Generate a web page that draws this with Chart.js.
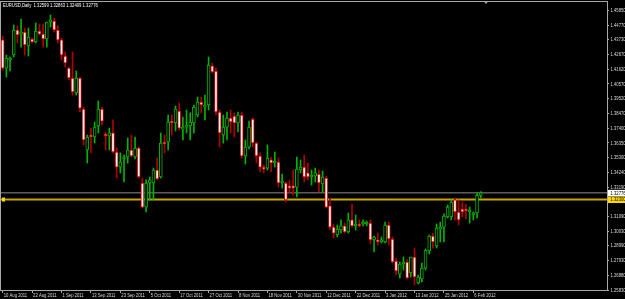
<!DOCTYPE html>
<html>
<head>
<meta charset="utf-8">
<script src="https://cdn.jsdelivr.net/npm/chart.js@4.4.1/dist/chart.umd.min.js"></script>
<style>
  html, body { margin: 0; padding: 0; background: #000; }
</style>
</head>
<body>
<canvas id="chart" width="625" height="299"></canvas>
<script>
// EURUSD daily bars, 10 Aug 2011 .. 8 Feb 2012
const opens = [
  1.4371, 1.4170, 1.4228, 1.4263, 1.4442, 1.4413, 1.4428, 1.4328, 1.4378, 1.4356,
  1.4435, 1.4413, 1.4378, 1.4499, 1.4506, 1.4442, 1.4371, 1.4256, 1.4170, 1.4099,
  1.3992, 1.4099, 1.3877, 1.3584, 1.3691, 1.3677, 1.3756, 1.3877, 1.3698, 1.3684,
  1.3706, 1.3570, 1.3462, 1.3520, 1.3534, 1.3584, 1.3534, 1.3598, 1.3348, 1.3176,
  1.3348, 1.3348, 1.3441, 1.3391, 1.3641, 1.3641, 1.3791, 1.3777, 1.3863, 1.3734,
  1.3748, 1.3756, 1.3777, 1.3834, 1.3927, 1.3891, 1.3906, 1.4185, 1.4149, 1.3856,
  1.3691, 1.3748, 1.3813, 1.3827, 1.3777, 1.3834, 1.3541, 1.3605, 1.3806, 1.3634,
  1.3541, 1.3462, 1.3455, 1.3513, 1.3491, 1.3498, 1.3348, 1.3348, 1.3327, 1.3327,
  1.3319, 1.3441, 1.3462, 1.3420, 1.3391, 1.3398, 1.3412, 1.3341, 1.3384, 1.3184,
  1.3033, 1.2976, 1.3012, 1.3041, 1.2998, 1.3084, 1.3041, 1.3055, 1.3055, 1.3055,
  1.3062, 1.2941, 1.2941, 1.2926, 1.2926, 1.3048, 1.2948, 1.2790, 1.2697, 1.2769,
  1.2783, 1.2705, 1.2819, 1.2633, 1.2662, 1.2740, 1.2862, 1.2969, 1.2898, 1.3019,
  1.3033, 1.3105, 1.3105, 1.3227, 1.3141, 1.3162, 1.3162, 1.3141, 1.3119, 1.3134,
  1.32599
];
const highs = [
  1.4399, 1.4263, 1.4249, 1.4478, 1.4471, 1.4521, 1.4456, 1.4456, 1.4385, 1.4492,
  1.4485, 1.4485, 1.4499, 1.4549, 1.4528, 1.4471, 1.4385, 1.4285, 1.4177, 1.4285,
  1.4149, 1.4106, 1.3891, 1.3691, 1.3741, 1.3784, 1.3934, 1.3891, 1.3713, 1.3741,
  1.3799, 1.3598, 1.3563, 1.3548, 1.3670, 1.3691, 1.3677, 1.3605, 1.3384, 1.3370,
  1.3391, 1.3455, 1.3527, 1.3706, 1.3691, 1.3834, 1.3834, 1.3899, 1.3920, 1.3820,
  1.3870, 1.3849, 1.3906, 1.3963, 1.3963, 1.3977, 1.4249, 1.4206, 1.4170, 1.3870,
  1.3834, 1.3856, 1.3870, 1.3849, 1.3856, 1.3856, 1.3656, 1.3791, 1.3813, 1.3641,
  1.3563, 1.3477, 1.3620, 1.3534, 1.3570, 1.3527, 1.3412, 1.3355, 1.3370, 1.3441,
  1.3534, 1.3513, 1.3548, 1.3491, 1.3441, 1.3455, 1.3441, 1.3434, 1.3398, 1.3241,
  1.3055, 1.3048, 1.3084, 1.3062, 1.3134, 1.3198, 1.3119, 1.3084, 1.3084, 1.3076,
  1.3084, 1.2969, 1.2990, 1.2962, 1.3069, 1.3069, 1.2962, 1.2812, 1.2783, 1.2819,
  1.2798, 1.2819, 1.2883, 1.2690, 1.2776, 1.2876, 1.2976, 1.2990, 1.3055, 1.3069,
  1.3127, 1.3191, 1.3227, 1.3241, 1.3227, 1.3212, 1.3198, 1.3176, 1.3141, 1.3277,
  1.32863
];
const lows = [
  1.4156, 1.4106, 1.4149, 1.4249, 1.4349, 1.4320, 1.4263, 1.4256, 1.4349, 1.4349,
  1.4406, 1.4320, 1.4320, 1.4463, 1.4428, 1.4349, 1.4228, 1.4177, 1.4085, 1.3977,
  1.3977, 1.3856, 1.3620, 1.3491, 1.3563, 1.3634, 1.3706, 1.3763, 1.3584, 1.3584,
  1.3563, 1.3384, 1.3420, 1.3355, 1.3491, 1.3534, 1.3520, 1.3384, 1.3169, 1.3141,
  1.3227, 1.3227, 1.3370, 1.3384, 1.3563, 1.3584, 1.3691, 1.3720, 1.3727, 1.3656,
  1.3706, 1.3656, 1.3706, 1.3820, 1.3849, 1.3799, 1.3870, 1.4135, 1.3834, 1.3605,
  1.3634, 1.3656, 1.3706, 1.3677, 1.3713, 1.3527, 1.3484, 1.3591, 1.3605, 1.3491,
  1.3427, 1.3420, 1.3441, 1.3427, 1.3462, 1.3319, 1.3312, 1.3212, 1.3277, 1.3262,
  1.3248, 1.3420, 1.3355, 1.3370, 1.3334, 1.3355, 1.3284, 1.3284, 1.3169, 1.3012,
  1.2955, 1.2962, 1.2990, 1.2990, 1.2990, 1.3033, 1.3012, 1.3033, 1.3041, 1.3041,
  1.2912, 1.2855, 1.2905, 1.2919, 1.2919, 1.2905, 1.2776, 1.2690, 1.2669, 1.2726,
  1.2662, 1.2676, 1.2619, 1.2626, 1.2640, 1.2726, 1.2840, 1.2883, 1.2883, 1.2926,
  1.2926, 1.3098, 1.3084, 1.3084, 1.3048, 1.3105, 1.3091, 1.3062, 1.3084, 1.3098,
  1.32409
];
const closes = [
  1.4170, 1.4242, 1.4242, 1.4442, 1.4406, 1.4428, 1.4335, 1.4392, 1.4356, 1.4435,
  1.4413, 1.4378, 1.4499, 1.4514, 1.4442, 1.4371, 1.4263, 1.4206, 1.4099, 1.3999,
  1.4099, 1.3884, 1.3656, 1.3677, 1.3677, 1.3748, 1.3877, 1.3791, 1.3684, 1.3706,
  1.3570, 1.3462, 1.3498, 1.3534, 1.3584, 1.3541, 1.3598, 1.3391, 1.3176, 1.3348,
  1.3370, 1.3441, 1.3377, 1.3634, 1.3627, 1.3784, 1.3777, 1.3877, 1.3741, 1.3748,
  1.3763, 1.3784, 1.3891, 1.3927, 1.3906, 1.3906, 1.4192, 1.4142, 1.3856, 1.3706,
  1.3748, 1.3813, 1.3784, 1.3777, 1.3834, 1.3541, 1.3605, 1.3748, 1.3634, 1.3541,
  1.3462, 1.3448, 1.3527, 1.3491, 1.3505, 1.3348, 1.3362, 1.3227, 1.3312, 1.3312,
  1.3448, 1.3462, 1.3391, 1.3391, 1.3405, 1.3420, 1.3348, 1.3391, 1.3176, 1.3033,
  1.2990, 1.3019, 1.3041, 1.2998, 1.3084, 1.3041, 1.3055, 1.3041, 1.3069, 1.3069,
  1.2941, 1.2962, 1.2926, 1.2941, 1.3048, 1.2948, 1.2783, 1.2719, 1.2769, 1.2783,
  1.2669, 1.2819, 1.2676, 1.2676, 1.2740, 1.2869, 1.2969, 1.2926, 1.3026, 1.3033,
  1.3112, 1.3176, 1.3212, 1.3141, 1.3084, 1.3141, 1.3148, 1.3155, 1.3134, 1.3260,
  1.32776
];

// one date label every 8 bars
const dateLabels = [
  '10 Aug 2011', '22 Aug 2011', '1 Sep 2011', '13 Sep 2011', '23 Sep 2011',
  '5 Oct 2011', '17 Oct 2011', '27 Oct 2011', '8 Nov 2011', '18 Nov 2011',
  '30 Nov 2011', '12 Dec 2011', '22 Dec 2011', '3 Jan 2012', '13 Jan 2012',
  '25 Jan 2012', '6 Feb 2012'
];
const priceLabels = [
  '1.45850', '1.44770', '1.43730', '1.42670', '1.41620', '1.40570', '1.39520',
  '1.38470', '1.37400', '1.36350', '1.35300', '1.34240', '1.33190', '1.32140',
  '1.31090', '1.30030', '1.28990', '1.27930', '1.26880', '1.25830'
];

const bidPrice = 1.32776;
const levelPrice = 1.32300;
const headerText = 'EURUSD,Daily  1.32599 1.32863 1.32409 1.32776';

const BARS_PER_LABEL = 8;
const FONT = "'Liberation Sans', Arial, sans-serif";
const SQUEEZE = 0.7; // terminal font is narrower than anything installed
const BULL = '#00b400';
const BEAR = '#e00000';
const BEAR_WICK = '#b00000';
const AXIS = '#a8a8a8';
const TEXT = '#dcdcdc';

const xMin = -0.46, xMax = 164.35;
const yMin = 1.25759, yMax = 1.46494;

const isUp = i => closes[i] >= opens[i];

function squeezeText(ctx, text, x, y, sx) {
    ctx.save();
    ctx.translate(x, y);
    ctx.scale(sx, 1);
    ctx.fillText(text, 0, 0);
    ctx.restore();
}

// MT4 style extras: frame, tick labels, header, price boxes, shift marker
const mtDecor = {
    id: 'mtDecor',
    afterDraw(chart) {
        const { ctx, chartArea: a, scales } = chart;
        const x = scales.x, y = scales.y;
        ctx.save();

        ctx.strokeStyle = AXIS;
        ctx.lineWidth = 1;
        ctx.strokeRect(a.left - 0.5, a.top + 0.5, a.right - a.left + 1, a.bottom - a.top - 1);

        // tick labels
        ctx.fillStyle = TEXT;
        ctx.font = '6px ' + FONT;
        ctx.textAlign = 'left';
        ctx.textBaseline = 'middle';
        x.ticks.forEach((t, k) => {
            squeezeText(ctx, dateLabels[k], x.getPixelForValue(t.value) + 1, a.bottom + 4.5, SQUEEZE);
        });
        y.ticks.forEach((t, k) => {
            squeezeText(ctx, priceLabels[k], a.right + 3.5, y.getPixelForValue(t.value), SQUEEZE);
        });

        // header
        ctx.fillStyle = '#ffffff';
        squeezeText(ctx, headerText, 3, 5.5, SQUEEZE);

        const box = (price, text, fill) => {
            const py = y.getPixelForValue(price);
            ctx.fillStyle = fill;
            ctx.fillRect(a.right + 1, py - 3, chart.width - a.right, 6.5);
            ctx.fillStyle = '#000';
            squeezeText(ctx, text, a.right + 3.5, py + 0.3, SQUEEZE);
        };
        box(bidPrice, bidPrice.toFixed(5), '#ffffff');
        box(levelPrice, levelPrice.toFixed(5), '#ffd700');

        // level marker on the left edge
        const ly = y.getPixelForValue(levelPrice);
        ctx.fillStyle = '#ffd700';
        ctx.fillRect(a.left + 1, ly - 2, 3, 4);

        // chart shift marker
        ctx.fillStyle = AXIS;
        ctx.beginPath();
        ctx.moveTo(483.5, a.top);
        ctx.lineTo(488.5, a.top);
        ctx.lineTo(486, a.top + 3);
        ctx.closePath();
        ctx.fill();

        ctx.restore();
    }
};

new Chart(document.getElementById('chart'), {
    type: 'bar',
    data: {
        datasets: [
            {
                label: 'Body',
                data: opens.map((o, i) => ({ x: i, y: [o, closes[i]] })),
                barThickness: 3,
                borderWidth: 1,
                borderSkipped: false,
                grouped: false,
                order: 1,
                backgroundColor: c => isUp(c.dataIndex) ? '#000000' : '#ffffff',
                borderColor: c => isUp(c.dataIndex) ? BULL : BEAR
            },
            {
                label: 'Wick',
                data: highs.map((h, i) => ({ x: i, y: [lows[i], h] })),
                barThickness: 1,
                borderWidth: 0,
                grouped: false,
                order: 2,
                backgroundColor: c => isUp(c.dataIndex) ? BULL : BEAR_WICK
            },
            {
                type: 'line',
                label: 'Bid',
                data: [{ x: xMin, y: bidPrice }, { x: xMax, y: bidPrice }],
                borderColor: '#8c8c8c',
                borderWidth: 1,
                pointRadius: 0,
                order: 3
            },
            {
                type: 'line',
                label: 'Level',
                data: [{ x: xMin, y: levelPrice }, { x: xMax, y: levelPrice }],
                borderColor: '#c8a800',
                borderWidth: 2,
                pointRadius: 0,
                order: 3
            }
        ]
    },
    options: {
        responsive: false,
        devicePixelRatio: 1,
        animation: false,
        layout: { padding: { left: 1, top: 1, right: 0, bottom: 0 } },
        scales: {
            x: {
                type: 'linear',
                min: xMin,
                max: xMax,
                offset: false,
                afterBuildTicks: s => { s.ticks = dateLabels.map((_, k) => ({ value: k * BARS_PER_LABEL })); },
                afterFit: s => { s.height = 8; },
                grid: { offset: false, drawOnChartArea: false, drawTicks: true, tickLength: 2, color: AXIS },
                border: { display: false },
                ticks: { display: false, autoSkip: false, maxRotation: 0 }
            },
            y: {
                type: 'linear',
                position: 'right',
                min: yMin,
                max: yMax,
                afterBuildTicks: s => { s.ticks = priceLabels.map(t => ({ value: parseFloat(t) })); },
                afterFit: s => { s.width = 18; },
                grid: { drawOnChartArea: false, drawTicks: true, tickLength: 2, color: AXIS },
                border: { display: false },
                ticks: { display: false, autoSkip: false }
            }
        },
        plugins: {
            legend: { display: false },
            tooltip: { enabled: false }
        }
    },
    plugins: [mtDecor]
});
</script>
</body>
</html>
